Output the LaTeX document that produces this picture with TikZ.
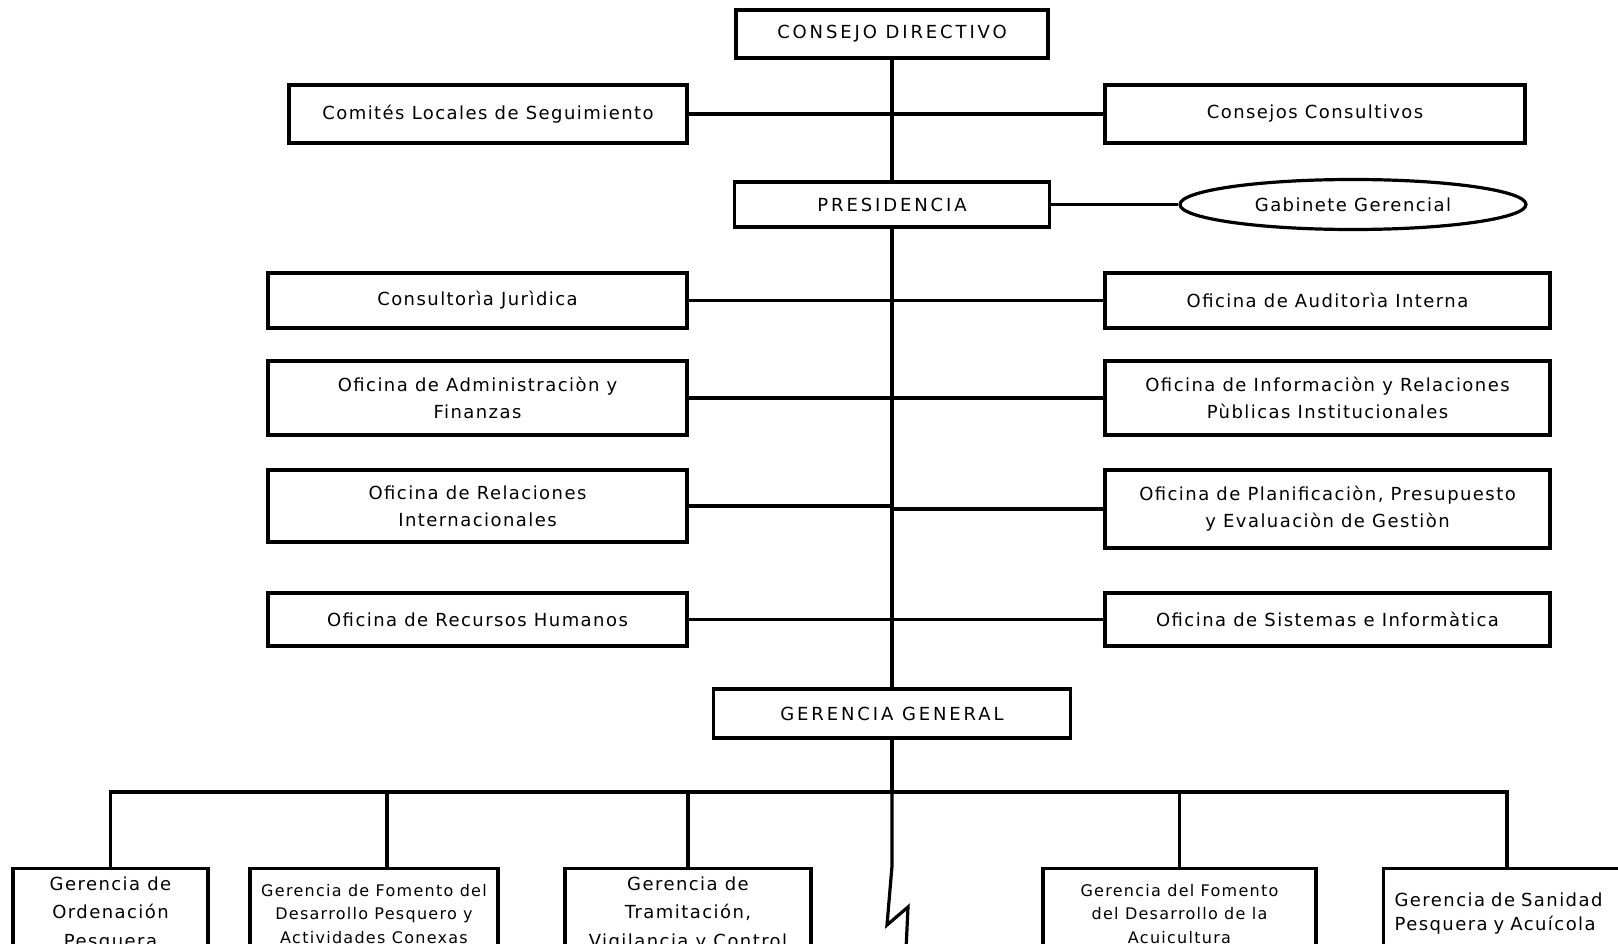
\documentclass[tikz,border=0pt]{standalone}
\usepackage{fontspec}
\setmainfont[LetterSpace=8]{DejaVu Sans}
\newfontfamily\capsfont[LetterSpace=16]{DejaVu Sans}
\usetikzlibrary{shapes.geometric}

\begin{document}
\begin{tikzpicture}[x=1pt,y=-1pt,line width=3.2pt,
		box/.style={draw,rectangle,inner sep=0pt,align=center,font=\fontsize{18}{27}\selectfont},
		capbox/.style={box,font=\capsfont\fontsize{18}{27}\selectfont},
		leftbox/.style={box,minimum width=419pt},
		rightbox/.style={box,minimum width=445pt},
		lowbox/.style={box,anchor=north,minimum height=90pt,font=\fontsize{18}{28.5}\selectfont},
		smallbox/.style={lowbox,font=\fontsize{16}{23.5}\selectfont}]
	\useasboundingbox (0,0) rectangle (1618,944);
	\clip (0,0) rectangle (1618,944);
	% upper part
	\node[capbox,minimum width=312pt,minimum height=48pt] (consejo) at (892,34) {CONSEJO DIRECTIVO};
	\node[box,minimum width=398pt,minimum height=58pt] (comites) at (488,114) {Comités Locales de Seguimiento};
	\node[box,minimum width=420pt,minimum height=58pt] (consultivos) at (1315,114) {Consejos Consultivos};
	\node[capbox,minimum width=315pt,minimum height=45pt] (presidencia) at (892,204.5) {PRESIDENCIA};
	\node[draw,ellipse,inner sep=0pt,minimum width=346pt,minimum height=50pt,font=\fontsize{18}{27}\selectfont] (gabinete) at (1353,204.5) {Gabinete Gerencial};
	% offices
	\node[leftbox,minimum height=55pt] (juridica) at (477.5,300.5) {Consultorìa Jurìdica};
	\node[rightbox,minimum height=55pt] (auditoria) at (1327.5,300.5) {Oficina de Auditorìa Interna};
	\node[leftbox,minimum height=74pt] (admin) at (477.5,398) {Oficina de Administraciòn y\\Finanzas};
	\node[rightbox,minimum height=74pt] (informacion) at (1327.5,398) {Oficina de Informaciòn y Relaciones\\Pùblicas Institucionales};
	\node[leftbox,minimum height=72pt] (relint) at (477.5,506) {Oficina de Relaciones\\Internacionales};
	\node[rightbox,minimum height=78pt] (planif) at (1327.5,509) {Oficina de Planificaciòn, Presupuesto\\y Evaluaciòn de Gestiòn};
	\node[leftbox,minimum height=53pt] (rrhh) at (477.5,619.5) {Oficina de Recursos Humanos};
	\node[rightbox,minimum height=53pt] (sistemas) at (1327.5,619.5) {Oficina de Sistemas e Informàtica};
	\node[capbox,minimum width=357pt,minimum height=49pt] (gerencia) at (892,713.5) {GERENCIA GENERAL};
	% gerencias de linea
	\node[lowbox,minimum width=195pt] (ordenacion) at (110.5,867) {Gerencia de\\Ordenación\\Pesquera};
	\node[smallbox,minimum width=248pt] (fomento) at (374,867) {Gerencia de Fomento del\\Desarrollo Pesquero y\\Actividades Conexas};
	\node[lowbox,minimum width=246pt] (tramitacion) at (688,867) {Gerencia de\\Tramitación,\\Vigilancia y Control};
	\node[smallbox,minimum width=273pt] (acuicultura) at (1179.5,867) {Gerencia del Fomento\\del Desarrollo de la\\Acuicultura};
	\node[lowbox,anchor=north west,align=left,text width=260pt,inner xsep=11pt,font=\fontsize{18}{24}\selectfont] (sanidad) at (1382,867) {Gerencia de Sanidad\\Pesquera y Acuícola};
	% connectors
	\draw (consejo.south) -- (presidencia.north);
	\draw (presidencia.south) -- (gerencia.north);
	\draw (comites) -- (consultivos);
	\draw (presidencia) -- (gabinete);
	\draw (juridica) -- (auditoria);
	\draw (admin) -- (informacion);
	\draw (relint.east) -- (relint.east -| gerencia.north);
	\draw (planif.west) -- (planif.west -| gerencia.north);
	\draw (rrhh) -- (sistemas);
	\coordinate (bus) at (892,792);
	\coordinate (busR) at (1507,792);
	\coordinate (d2) at (387,792);
	\draw (gerencia.south) -- (bus);
	\draw (ordenacion.north) -- (ordenacion.north |- bus) -- (busR) -- (busR |- sanidad.north);
	\draw (d2) -- (d2 |- fomento.north);
	\draw (tramitacion.north) -- (tramitacion.north |- bus);
	\draw (acuicultura.north) -- (acuicultura.north |- bus);
	\draw (bus) -- (892,866) -- (887,925) -- (908,907) -- (906,950);
\end{tikzpicture}
\end{document}
